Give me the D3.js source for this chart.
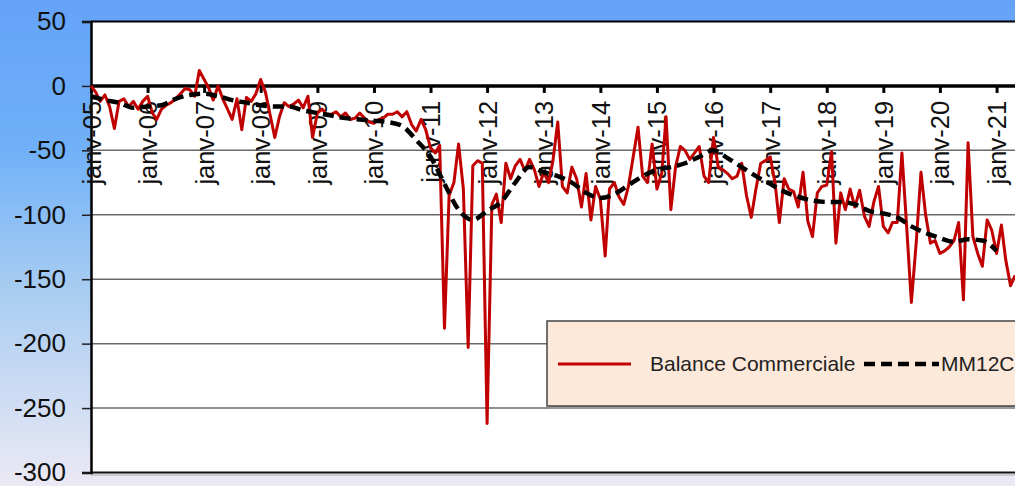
<!DOCTYPE html>
<html><head><meta charset="utf-8">
<script src="https://cdn.jsdelivr.net/npm/d3@7"></script>
<style>html,body{margin:0;padding:0;overflow:hidden;background:#fff}</style>
</head><body>
<svg id="c" width="1015" height="486"></svg>
<script>
// ---- data ----
const startDate = new Date(2005, 0, 1);
const tickLabels = ["janv-05","janv-06","janv-07","janv-08","janv-09","janv-10","janv-11","janv-12","janv-13","janv-14","janv-15","janv-16","janv-17","janv-18","janv-19","janv-20","janv-21"];
const yTicks = [50, 0, -50, -100, -150, -200, -250, -300];
const gridValues = [-50, -100, -150, -200, -250];
const legendLabels = ["Balance Commerciale", "MM12C"];
// monthly balance, janv-05 onward
const balance = [
  0,-5,-12,-7,-16,-33,-12,-10,-16,-12,-18,-12,
  -8,-21,-26,-18,-15,-13,-10,-6,-2,-3,-8,12,
  5,-2,-11,0,-10,-18,-26,-10,-34,-9,-12,-6,
  5,-5,-22,-40,-24,-13,-16,-14,-11,-17,-8,-40,
  -21,-18,-22,-22,-20,-24,-21,-26,-25,-21,-25,-28,
  -29,-26,-25,-22,-22,-20,-24,-20,-30,-35,-26,-34,
  -48,-52,-46,-188,-85,-75,-45,-80,-203,-62,-58,-60,
  -262,-92,-84,-106,-60,-72,-62,-57,-66,-57,-65,-78,
  -67,-75,-58,-28,-78,-83,-63,-72,-94,-68,-104,-78,
  -88,-132,-80,-75,-86,-92,-78,-55,-32,-70,-75,-45,
  -80,-68,-24,-96,-63,-47,-50,-57,-52,-47,-70,-75,
  -40,-63,-65,-68,-72,-70,-60,-85,-102,-80,-60,-58,
  -55,-75,-106,-72,-80,-82,-94,-67,-105,-117,-83,-78,
  -77,-51,-122,-83,-96,-80,-94,-81,-101,-109,-90,-78,
  -109,-114,-106,-106,-52,-110,-168,-122,-67,-100,-122,-120,
  -130,-128,-125,-120,-106,-166,-44,-117,-130,-140,-104,-112,
  -130,-108,-135,-155,-147
];
// 12-month moving average, read every 3 months from janv-05
const mm12cStepMonths = 3;
const mm12c = [
  -8,-11,-13,-17,-16,-15,-10,-7,-6,-8,-11,-13,
  -15,-16,-16,-19,-21,-23,-25,-26,-27,-28,-31,-42,
  -55,-76,-96,-104,-97,-90,-75,-63,-67,-70,-75,-83,
  -87,-84,-77,-70,-65,-63,-60,-55,-50,-56,-63,-70,
  -76,-82,-86,-89,-90,-90,-92,-97,-99,-102,-109,-114,
  -118,-121,-119,-120,-128
];

(function(){
const W = 1015, H = 486;
const svg = d3.select("#c");
const defs = svg.append("defs");
const grad = defs.append("linearGradient").attr("id","bg").attr("x1",0).attr("y1",0).attr("x2",0).attr("y2",1);
[[0,"#64a3f7"],[0.3,"#6fb0f8"],[0.6,"#a9cdf1"],[1,"#ece9f5"]].forEach(s=>grad.append("stop").attr("offset",s[0]).attr("stop-color",s[1]));
svg.append("rect").attr("width",W).attr("height",H).attr("fill","url(#bg)");

const pL = 91, pT = 21.5, pB = 472.5, pR = 1030;
const x = d3.scaleTime().domain([startDate, new Date(2021,0,1)]).range([91, 996.6]);
const y = d3.scaleLinear().domain([-300, 50]).range([pB, pT]);
const FONT = "'Liberation Sans', Arial, sans-serif";

svg.append("rect").attr("x",pL).attr("y",pT).attr("width",pR-pL).attr("height",pB-pT).attr("fill","#fff");

// gridlines
svg.append("g").selectAll("line").data(gridValues).join("line")
  .attr("x1",pL).attr("x2",pR).attr("y1",d=>y(d)).attr("y2",d=>y(d))
  .attr("stroke","#6a6a6a").attr("stroke-width",1.5);

// borders
svg.append("line").attr("x1",pL).attr("x2",pR).attr("y1",pT).attr("y2",pT).attr("stroke","#000").attr("stroke-width",2);
svg.append("line").attr("x1",pL).attr("x2",pR).attr("y1",pB).attr("y2",pB).attr("stroke","#111").attr("stroke-width",2);
svg.append("line").attr("x1",pL).attr("x2",pR).attr("y1",pB+2.5).attr("y2",pB+2.5).attr("stroke","#aaa").attr("stroke-width",1);

// y axis
const yAxis = svg.append("g").attr("transform",`translate(${pL},0)`)
  .call(d3.axisLeft(y).tickValues(yTicks).tickSize(9).tickPadding(16).tickFormat(d=>String(d)));
yAxis.select(".domain").attr("stroke","#000").attr("stroke-width",2.5);
yAxis.selectAll(".tick line").attr("stroke","#222").attr("stroke-width",1.5);
yAxis.selectAll("text").attr("font-family",FONT).attr("font-size",26).attr("fill","#111");

// x axis on zero line
const yearDates = tickLabels.map((_,i)=>d3.timeYear.offset(startDate,i));
const xAxis = svg.append("g").attr("transform",`translate(0,${y(0)})`)
  .call(d3.axisBottom(x).tickValues(yearDates).tickSize(7).tickFormat((d,i)=>tickLabels[i]));
xAxis.select(".domain").attr("d",`M${pL},0H${pR}`).attr("stroke","#000").attr("stroke-width",3.5);
xAxis.selectAll(".tick line").attr("stroke","#000").attr("stroke-width",3);
xAxis.selectAll("text")
  .attr("font-family",FONT).attr("font-size",25.5).attr("fill","#111")
  .attr("transform","rotate(-90)").attr("x",-15).attr("y",9).attr("dy",0).style("text-anchor","end");

// lines
const balPts = balance.map((v,i)=>({d:d3.timeMonth.offset(startDate,i), v}));
const mmPts = mm12c.map((v,i)=>({d:d3.timeMonth.offset(startDate,i*mm12cStepMonths), v}));
const line = d3.line().x(p=>x(p.d)).y(p=>y(p.v));
svg.append("path").datum(balPts).attr("d",line).attr("fill","none").attr("stroke","#c00000").attr("stroke-width",3).attr("stroke-linejoin","round");
svg.append("path").datum(mmPts).attr("d",line.curve(d3.curveMonotoneX)).attr("fill","none").attr("stroke","#000").attr("stroke-width",4.5).attr("stroke-dasharray","11,6");

// legend
const lg = svg.append("g");
lg.append("rect").attr("x",549).attr("y",324).attr("width",500).attr("height",85).attr("fill","#9a9a9a");
lg.append("rect").attr("x",547).attr("y",321).attr("width",500).attr("height",85).attr("fill","#fde9da").attr("stroke","#444").attr("stroke-width",1.5);
lg.append("line").attr("x1",558).attr("x2",631).attr("y1",364).attr("y2",364).attr("stroke","#c00000").attr("stroke-width",3);
lg.append("text").attr("x",650).attr("y",371).text(legendLabels[0]);
lg.append("line").attr("x1",864).attr("x2",939).attr("y1",364).attr("y2",364).attr("stroke","#000").attr("stroke-width",4.5).attr("stroke-dasharray","11,6");
lg.append("text").attr("x",941).attr("y",371).text(legendLabels[1]);
lg.selectAll("text").attr("font-family",FONT).attr("font-size",21).attr("fill","#222");
})();
</script>
</body></html>
